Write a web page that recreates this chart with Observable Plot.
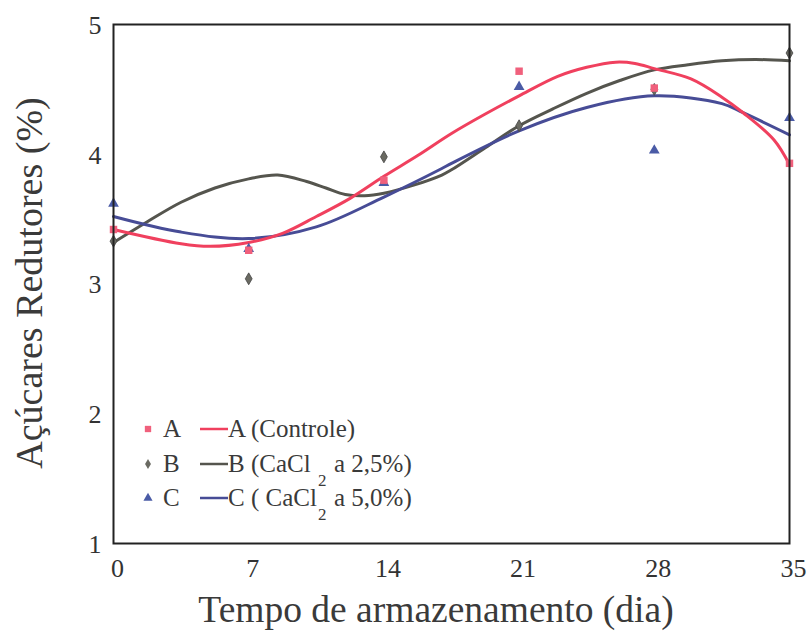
<!DOCTYPE html>
<html>
<head>
<meta charset="utf-8">
<script src="https://cdn.jsdelivr.net/npm/d3@7"></script>
<script src="https://cdn.jsdelivr.net/npm/@observablehq/plot@0.6"></script>
<style>
  html, body { margin: 0; padding: 0; background: #fff; }
  #chart { width: 810px; height: 634px; }
  #chart svg text { font-family: "Liberation Serif", "Times New Roman", serif; }
</style>
</head>
<body>
<div id="chart"></div>
<script>
// ---- observed points ----
const days = [0, 7, 14, 21, 28, 35];
const pointsA = [3.42, 3.26, 3.80, 4.64, 4.51, 3.93];
const pointsB = [3.33, 3.04, 3.98, 4.22, 4.50, 4.78];
const pointsC = [3.62, 3.27, 3.78, 4.52, 4.03, 4.28];

// ---- fitted curves ----
const curveDaysA = [0, 3.5, 5, 7, 8.75, 10.5, 12.25, 14, 15.75, 17.5, 19.25, 21, 23, 24.5, 26, 27, 28, 29.9, 31.5, 32.6, 34.2, 35];
const curveA     = [3.42, 3.31, 3.29, 3.32, 3.39, 3.52, 3.66, 3.83, 3.99, 4.16, 4.31, 4.45, 4.60, 4.67, 4.71, 4.70, 4.66, 4.58, 4.44, 4.32, 4.11, 3.92];
const curveDaysB = [0, 1.75, 3.5, 5.25, 7, 8.5, 10, 11, 12, 13, 14, 15.5, 17, 17.5, 19.25, 21, 22.75, 24.5, 26.25, 28, 29.75, 31.5, 33.25, 35];
const curveB     = [3.32, 3.48, 3.63, 3.74, 3.81, 3.84, 3.79, 3.74, 3.69, 3.68, 3.70, 3.76, 3.84, 3.88, 4.05, 4.22, 4.35, 4.47, 4.57, 4.65, 4.69, 4.72, 4.73, 4.72];
const curveDaysC = [0, 3.5, 7, 10.5, 14, 17, 17.5, 21, 24.5, 28, 31.5, 32.6, 35];
const curveC     = [3.52, 3.40, 3.35, 3.44, 3.67, 3.89, 3.93, 4.18, 4.36, 4.45, 4.39, 4.32, 4.15];

const xTicks = [0, 7, 14, 21, 28, 35];
const yTicks = [1, 2, 3, 4, 5];

const colA = "#f0405e", colAp = "#f0607c";
const colB = "#55554e", colBp = "#6a6a62";
const colC = "#474c96", colCp = "#4a5ba6";

const ptsA = days.map((d, i) => ({d, v: pointsA[i]}));
const ptsB = days.map((d, i) => ({d, v: pointsB[i]}));
const ptsC = days.map((d, i) => ({d, v: pointsC[i]}));
const lnA = curveDaysA.map((d, i) => ({d, v: curveA[i]}));
const lnB = curveDaysB.map((d, i) => ({d, v: curveB[i]}));
const lnC = curveDaysC.map((d, i) => ({d, v: curveC[i]}));

const font = "Liberation Serif";

const plot = Plot.plot({
  width: 810,
  height: 634,
  marginLeft: 113,
  marginRight: 21,
  marginTop: 24,
  marginBottom: 91,
  style: {fontFamily: font, background: "#fff", overflow: "visible"},
  x: {domain: [0, 35]},
  y: {domain: [1, 5]},
  marks: [
    Plot.axisX({ticks: xTicks, tickSize: 0, tickPadding: 15, fontSize: 26, fontFamily: font, dx: 4, label: null, fill: "#333", tickFormat: d => String(d)}),
    Plot.axisY({ticks: yTicks, tickSize: 0, tickPadding: 12, fontSize: 26, fontFamily: font, dy: 1, label: null, fill: "#333", tickFormat: d => String(d)}),
    Plot.line(lnB, {x: "d", y: "v", stroke: colB, strokeWidth: 3, curve: "catmull-rom"}),
    Plot.line(lnC, {x: "d", y: "v", stroke: colC, strokeWidth: 3, curve: "catmull-rom"}),
    Plot.line(lnA, {x: "d", y: "v", stroke: colA, strokeWidth: 3, curve: "catmull-rom"}),
    Plot.dot(ptsB, {x: "d", y: "v", symbol: "diamond", r: 3.6, fill: colBp, stroke: "#444", strokeWidth: 0.8}),
    Plot.dot(ptsC, {x: "d", y: "v", symbol: "triangle", r: 4, fill: colCp}),
    Plot.dot(ptsA, {x: "d", y: "v", symbol: "square", r: 4.2, fill: colAp}),
    Plot.frame({stroke: "#222", strokeWidth: 2})
  ]
});

document.getElementById("chart").appendChild(plot);

// ---- axis titles and legend ----
const svg = d3.select(plot);

function txt(parent, x, y, s, size, anchor) {
  return parent.append("text")
    .attr("x", x).attr("y", y)
    .style("font-family", "Liberation Serif, serif")
    .style("font-size", size + "px")
    .style("text-anchor", anchor || "start")
    .attr("fill", "#3a3a3a")
    .text(s);
}

txt(svg, 436, 622, "Tempo de armazenamento (dia)", 37.5, "middle");
svg.append("text")
  .attr("transform", "translate(42,283) rotate(-90)")
  .style("text-anchor", "middle")
  .style("font-family", "Liberation Serif, serif").style("font-size", "38px")
  .attr("fill", "#3a3a3a")
  .text("Açúcares Redutores (%)");

const legend = svg.append("g");
const rows = [
  {key: "A", sym: d3.symbolSquare, size: 40, fill: colAp, line: colA, base: 437, pre: "A (Controle)", sub: null, post: null},
  {key: "B", sym: d3.symbolDiamond, size: 30, fill: colBp, line: colB, base: 472, pre: "B (CaCl", sub: "2", post: "a 2,5%)"},
  {key: "C", sym: d3.symbolTriangle, size: 36, fill: colCp, line: colC, base: 506, pre: "C ( CaCl", sub: "2", post: "a 5,0%)"}
];
rows.forEach(r => {
  legend.append("path")
    .attr("transform", `translate(148,${r.base - 8})`)
    .attr("d", d3.symbol(r.sym, r.size)())
    .attr("fill", r.fill);
  txt(legend, 163, r.base, r.key, 25);
  legend.append("line")
    .attr("x1", 200).attr("x2", 228)
    .attr("y1", r.base - 8).attr("y2", r.base - 8)
    .attr("stroke", r.line).attr("stroke-width", 2.5);
  txt(legend, 228, r.base, r.pre, 25);
  if (r.sub) {
    txt(legend, 318, r.base + 14, r.sub, 17);
    txt(legend, 334, r.base, r.post, 25);
  }
});
</script>
</body>
</html>
